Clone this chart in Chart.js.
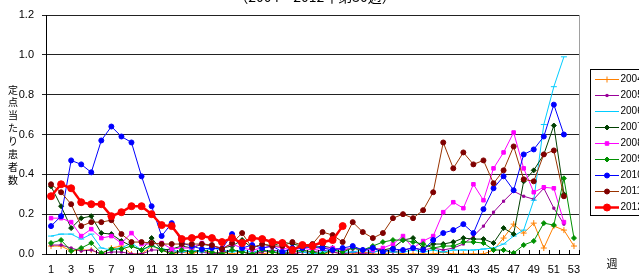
<!DOCTYPE html>
<html><head><meta charset="utf-8">
<script src="https://cdn.jsdelivr.net/npm/chart.js@4/dist/chart.umd.min.js"></script>
<style>
html,body{margin:0;padding:0;background:#fff;}
#wrap{position:relative;width:639px;height:273px;overflow:hidden;}
canvas{display:block;}
#ylab{position:absolute;left:6px;top:83.5px;width:14px;text-align:center;font:10px 'Noto Sans CJK JP',sans-serif;line-height:12.9px;color:#000;}
</style>
</head><body>
<div id="wrap">
<canvas id="c" width="639" height="273"></canvas>
<div id="ylab"></div>
</div>
<script>
const weeks = Array.from({length:53}, (_, i) => String(i + 1));
const yearNames = ['2004','2005','2006','2007','2008','2009','2010','2011','2012'];
const titleText = '（2004～2012年第30週）';
const yAxisLabel = '定点当たり患者数';
const xAxisLabel = '週';

const s2004 = [0.04,0.04,0.015,0.02,0.02,0.0,0.03,0.04,0.0,0.0,
0.04,0.02,0.0,0.01,0.0,0.02,0.0,0.01,0.0,0.01,
0.0,0.0,0.01,0.0,0.0,0.01,0.0,0.0,0.01,0.0,
0.0,0.01,0.0,0.0,0.01,0.0,0.0,0.0,0.0,0.01,
0.0,0.0,0.0,0.0,0.02,0.08,0.15,0.105,0.155,0.03,
0.14,0.12,0.04];
const s2005 = [0.045,0.045,0.03,0.015,0.02,0.0,0.01,0.01,0.0,0.0,
0.02,0.02,0.01,0.01,0.02,0.01,0.0,0.01,0.02,0.01,
0.0,0.01,0.02,0.01,0.0,0.01,0.01,0.02,0.01,0.0,
0.01,0.0,0.01,0.02,0.01,0.02,0.03,0.02,0.03,0.02,
0.03,0.05,0.09,0.14,0.21,0.265,0.315,0.29,0.275,0.33,
0.23,0.15,null];
const s2006 = [0.09,0.10,0.10,0.075,0.10,0.03,0.02,0.03,0.055,0.02,
0.04,0.025,0.02,0.01,0.02,0.01,0.03,0.02,0.01,0.02,
0.01,0.02,0.01,0.01,0.02,0.01,0.0,0.01,0.02,0.01,
0.01,0.02,0.01,0.02,0.01,0.01,0.02,0.01,0.02,0.01,
0.02,0.02,0.02,0.025,0.03,0.05,0.09,0.12,0.27,0.65,
0.84,0.99,null];
const s2007 = [0.34,0.24,0.13,0.18,0.19,0.105,0.10,0.065,0.04,0.02,
0.08,0.02,0.025,0.04,0.03,0.05,0.04,0.03,0.04,0.07,
0.03,0.05,0.04,0.06,0.05,0.04,0.03,0.04,0.03,0.02,
0.03,0.02,0.03,0.02,0.03,0.07,0.08,0.03,0.05,0.05,
0.06,0.08,0.075,0.075,0.055,0.13,0.10,0.365,0.42,0.50,
0.645,0.30,null];
const s2008 = [0.18,0.18,0.16,0.09,0.125,0.08,0.09,0.055,0.105,0.05,
0.05,0.055,0.025,0.03,0.03,0.055,0.04,0.03,0.05,0.03,
0.02,0.03,0.04,0.03,0.02,0.03,0.02,0.03,0.03,0.02,
0.03,0.02,0.02,0.03,0.05,0.09,0.03,0.065,0.09,0.21,
0.26,0.23,0.35,0.27,0.43,0.51,0.61,0.43,0.31,0.335,
0.33,0.16,null];
const s2009 = [0.055,0.07,0.015,0.03,0.055,0.005,0.025,0.025,0.04,0.02,
0.045,0.02,0.0,0.02,0.01,0.02,0.01,0.0,0.02,0.01,
0.0,0.02,0.01,0.0,0.01,0.02,0.01,0.0,0.02,0.01,
0.03,0.02,0.04,0.06,0.07,0.07,0.06,0.05,0.03,0.04,
0.04,0.06,0.06,0.055,0.02,0.02,0.005,0.045,0.065,0.155,
0.145,0.38,0.08];
const s2010 = [0.14,0.19,0.47,0.45,0.41,0.57,0.64,0.59,0.56,0.39,
0.24,0.09,0.155,0.055,0.04,0.025,0.03,0.025,0.10,0.03,
0.045,0.03,0.04,0.01,0.03,0.03,0.04,0.03,0.02,0.03,
0.04,0.02,0.03,0.01,0.025,0.02,0.03,0.02,0.07,0.105,
0.12,0.15,0.105,0.225,0.33,0.39,0.32,0.50,0.525,0.59,
0.75,0.60,null];
const s2011 = [0.35,0.31,0.25,0.14,0.16,0.16,0.17,0.10,0.06,0.06,
0.055,0.05,0.05,0.05,0.05,0.05,0.045,0.025,0.055,0.105,
0.03,0.05,0.04,0.04,0.06,0.045,0.05,0.11,0.095,0.06,
0.16,0.11,0.08,0.105,0.18,0.20,0.18,0.22,0.31,0.56,
0.43,0.51,0.45,0.47,0.355,0.42,0.54,0.375,0.365,0.50,
0.52,0.29,null];
const s2012 = [0.29,0.35,0.33,0.26,0.25,0.25,0.19,0.21,0.24,0.24,
0.20,0.145,0.14,0.075,0.08,0.09,0.08,0.06,0.08,0.055,
0.08,0.075,0.06,0.055,0.02,0.045,0.04,0.06,0.07,0.14];

const seriesValues = [s2004,s2005,s2006,s2007,s2008,s2009,s2010,s2011,s2012];
const styles = [
  {line:'#FF8000', point:'#FF8000', ps:'cross', r:3, w:1},
  {line:'#990099', point:'#990099', ps:'rect', r:1.5, w:1},
  {line:'#00CCFF', point:'#00CCFF', ps:'line', r:3, w:1},
  {line:'#004000', point:'#004000', ps:'rectRot', r:2.5, w:1},
  {line:'#FF00FF', point:'#FF00FF', ps:'rect', r:2.5, w:1},
  {line:'#009000', point:'#009000', ps:'rectRot', r:2.5, w:1},
  {line:'#0000FF', point:'#0000FF', ps:'circle', r:2.5, w:1},
  {line:'#993300', point:'#800000', ps:'circle', r:2.5, w:1},
  {line:'#FF0000', point:'#FF0000', ps:'circle', r:3.5, w:2.5}
];

const datasets = seriesValues.map((vals, i) => ({
  label: yearNames[i],
  data: vals,
  borderColor: styles[i].line,
  backgroundColor: styles[i].point,
  pointBackgroundColor: styles[i].point,
  pointBorderColor: styles[i].point,
  pointStyle: styles[i].ps,
  pointRadius: styles[i].r,
  pointBorderWidth: 1,
  borderWidth: styles[i].w,
  tension: 0,
  spanGaps: false,
  order: 8 - i
}));

document.getElementById('ylab').innerHTML = Array.from(yAxisLabel).join('<br>');

const FONT = "'Liberation Sans', Arial, sans-serif";
const JFONT = "'Noto Sans CJK JP', sans-serif";

const extras = {
  id: 'extras',
  afterDraw(chart) {
    const ctx = chart.ctx;
    const ca = chart.chartArea;
    const xs = chart.scales.x;
    ctx.save();
    ctx.strokeStyle = '#A0A0A0';
    ctx.lineWidth = 1;
    ctx.beginPath();
    ctx.moveTo(Math.round(ca.right) + 0.5, ca.top);
    ctx.lineTo(Math.round(ca.right) + 0.5, ca.bottom);
    ctx.stroke();
    ctx.strokeStyle = '#000';
    const n = weeks.length;
    const step = (xs.right - xs.left) / n;
    ctx.beginPath();
    for (let i = 0; i <= n; i++) {
      const x = Math.round(xs.left + i * step) + 0.5;
      ctx.moveTo(x, ca.bottom);
      ctx.lineTo(x, ca.bottom - 4);
    }
    ctx.stroke();
    ctx.fillStyle = '#000';
    ctx.font = '14px ' + JFONT;
    ctx.textAlign = 'center';
    ctx.textBaseline = 'alphabetic';
    ctx.fillText(titleText, 315, 2);
    ctx.font = '11px ' + JFONT;
    ctx.textBaseline = 'middle';
    ctx.fillText(xAxisLabel, 612, 264);
    ctx.strokeStyle = '#000';
    ctx.lineWidth = 1;
    ctx.strokeRect(590.5, 69.5, 70, 146);
    chart.data.datasets.forEach((ds, i) => {
      const y = Math.round(79 + i * 15.96) + 0.5;
      ctx.strokeStyle = ds.borderColor;
      ctx.lineWidth = ds.borderWidth;
      ctx.beginPath();
      ctx.moveTo(595, y);
      ctx.lineTo(619, y);
      ctx.stroke();
      ctx.fillStyle = ds.pointBackgroundColor;
      ctx.strokeStyle = ds.pointBorderColor;
      ctx.lineWidth = 1;
      Chart.helpers.drawPoint(ctx, {pointStyle: ds.pointStyle, radius: ds.pointRadius, rotation: 0, borderWidth: 1}, 607, y);
      ctx.fillStyle = '#000';
      ctx.font = '10px ' + FONT;
      ctx.textAlign = 'left';
      ctx.textBaseline = 'middle';
      ctx.fillText(ds.label, 620.5, y);
    });
    ctx.restore();
  }
};

new Chart(document.getElementById('c'), {
  type: 'line',
  data: { labels: weeks, datasets },
  options: {
    responsive: false,
    animation: false,
    layout: { padding: { left: 0, right: 60, top: 15, bottom: 0 } },
    plugins: { legend: { display: false }, title: { display: false }, tooltip: { enabled: false } },
    scales: {
      x: {
        type: 'category',
        offset: true,
        grid: { display: false, drawTicks: false },
        border: { display: true, color: '#000', width: 1 },
        ticks: {
          autoSkip: false, maxRotation: 0, minRotation: 0, padding: 9,
          color: '#000', font: { family: FONT, size: 11 },
          callback: function (v, idx) { return idx % 2 === 0 ? this.getLabelForValue(v) : ''; }
        },
        afterFit: s => { s.height = 19; }
      },
      y: {
        min: 0, max: 1.2,
        grid: { color: '#222', lineWidth: 1, drawTicks: true, tickLength: 4 },
        border: { display: true, color: '#000', width: 1 },
        ticks: {
          stepSize: 0.2, padding: 8, color: '#000', font: { family: FONT, size: 11 },
          callback: v => Number(v).toFixed(1)
        },
        afterFit: s => { s.width = 46; }
      }
    }
  },
  plugins: [extras]
});
</script>
</body></html>
